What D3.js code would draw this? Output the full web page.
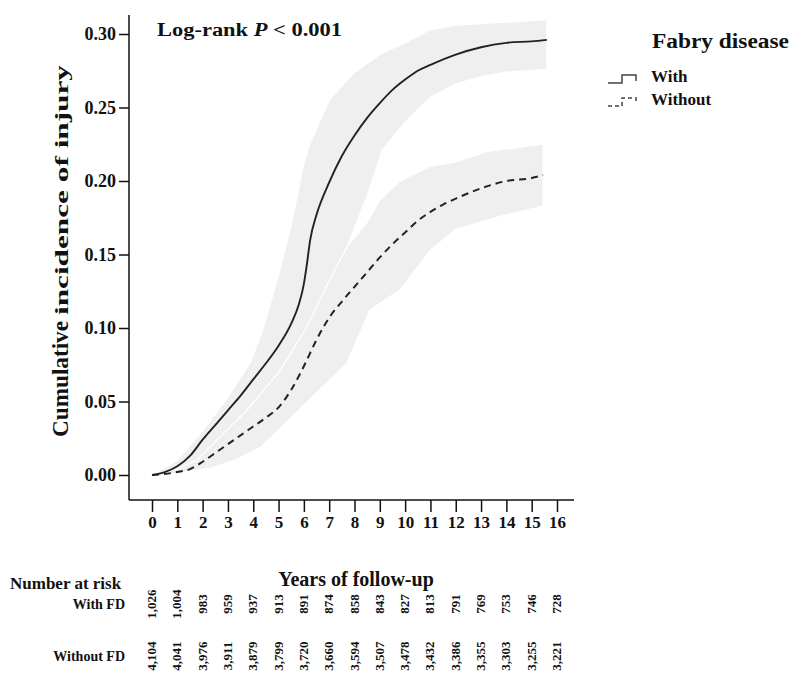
<!DOCTYPE html>
<html lang="en">
<head>
    <meta charset="UTF-8">
    <title>Cumulative incidence of injury</title>
    <style>
        body { margin: 0; padding: 0; background: #fff; }
        svg { display: block; }
        text { font-family: "Liberation Serif", "Times New Roman", serif; font-weight: bold; fill: #111; }
        .axis text { font-size: 17px; font-family: "Liberation Serif", serif; }
        .axis line, .axis path { stroke: #111; stroke-width: 1.5; }
    </style>
    <script src="https://d3js.org/d3.v7.min.js"></script>
</head>
<body>
<svg id="chart" width="791" height="673"></svg>
<script>
    // years of follow-up, cumulative incidence
    const withCurve = [[0,0],[0.5,0.002],[1,0.006],[1.5,0.013],[2,0.024],[2.5,0.034],[3,0.044],[3.5,0.054],[4,0.065],[4.5,0.076],[5,0.088],[5.5,0.103],[5.8,0.116],[6,0.13],[6.1,0.141],[6.25,0.16],[6.5,0.177],[7,0.199],[7.5,0.217],[8,0.231],[8.5,0.243],[9,0.253],[9.5,0.262],[10,0.269],[10.5,0.275],[11,0.279],[12,0.286],[13,0.291],[14,0.294],[15,0.295],[15.6,0.296]];
    const withoutCurve = [[0,0],[1,0.002],[1.5,0.004],[2,0.009],[2.5,0.015],[3,0.021],[3.5,0.027],[4,0.033],[4.5,0.039],[5,0.046],[5.5,0.058],[6,0.074],[6.5,0.092],[7,0.107],[7.5,0.118],[8,0.128],[8.5,0.138],[9,0.148],[9.5,0.157],[10,0.165],[10.5,0.173],[11,0.179],[11.5,0.184],[12,0.188],[13,0.195],[14,0.2],[15,0.202],[15.45,0.204]];

    // confidence bands (upper / lower edges)
    const withUpper = [[0,0],[1,0.01],[2,0.03],[3,0.053],[3.9,0.077],[4.4,0.1],[5,0.136],[5.5,0.17],[6,0.212],[6.2,0.224],[7,0.255],[8,0.274],[9,0.286],[10,0.294],[11,0.303],[12,0.306],[13,0.307],[14,0.308],[15,0.309],[15.6,0.31]];
    const withLower = [[0,0],[1,0.004],[1.77,0.01],[2.4,0.021],[3.75,0.044],[5.06,0.071],[6.1,0.1],[7.03,0.133],[7.7,0.155],[8.5,0.19],[9.1,0.221],[10,0.24],[11,0.257],[12,0.266],[13,0.271],[14,0.274],[15.6,0.276]];
    const withoutUpper = [[0,0],[1,0.004],[1.77,0.01],[2.4,0.021],[3.75,0.044],[5.06,0.071],[6.1,0.1],[7.03,0.133],[7.7,0.155],[8.5,0.172],[9,0.187],[9.8,0.2],[11,0.21],[12,0.213],[13.2,0.22],[15.45,0.225]];
    const withoutLower = [[0,0],[1,0.001],[2.4,0.005],[3.4,0.011],[4.3,0.019],[7.7,0.076],[8.6,0.112],[9.8,0.126],[11,0.153],[12,0.167],[13.75,0.176],[15.45,0.183]];

    const xTicks = d3.range(0, 17);
    const yTicks = [0, 0.05, 0.10, 0.15, 0.20, 0.25, 0.30];

    const riskLabels = ["With FD", "Without FD"];
    const atRiskWith = [1026,1004,983,959,937,913,891,874,858,843,827,813,791,769,753,746,728];
    const atRiskWithout = [4104,4041,3976,3911,3879,3799,3720,3660,3594,3507,3478,3432,3386,3355,3303,3255,3221];

    const legendTitle = "Fabry disease";
    const legendLabels = ["With", "Without"];

    const svg = d3.select("#chart");
    const frame = { left: 129, right: 574, top: 15, bottom: 500 };

    const x = d3.scaleLinear().domain([0, 16]).range([152, 557]);
    const y = d3.scaleLinear().domain([0, 0.30]).range([475, 34]);

    // bands
    const band = (up, lo) => {
        const pts = up.map(d => [x(d[0]), y(d[1])]).concat(lo.slice().reverse().map(d => [x(d[0]), y(d[1])]));
        return "M" + pts.join("L") + "Z";
    };
    svg.append("path").attr("d", band(withUpper, withLower))
        .attr("fill", "#efefef").attr("stroke", "#fff").attr("stroke-width", 1.2);
    svg.append("path").attr("d", band(withoutUpper, withoutLower))
        .attr("fill", "#efefef").attr("stroke", "#fff").attr("stroke-width", 1.2);

    const line = d3.line().x(d => x(d[0])).y(d => y(d[1])).curve(d3.curveMonotoneX);
    svg.append("path").attr("d", line(withCurve))
        .attr("fill", "none").attr("stroke", "#222").attr("stroke-width", 1.9);
    svg.append("path").attr("d", line(withoutCurve))
        .attr("fill", "none").attr("stroke", "#222").attr("stroke-width", 2)
        .attr("stroke-dasharray", "7,5");

    // axes
    svg.append("line").attr("x1", frame.left).attr("x2", frame.left)
        .attr("y1", frame.top).attr("y2", frame.bottom).attr("stroke", "#111").attr("stroke-width", 1.5);
    svg.append("line").attr("x1", frame.left).attr("x2", frame.right)
        .attr("y1", frame.bottom).attr("y2", frame.bottom).attr("stroke", "#111").attr("stroke-width", 1.5);

    const yAxis = svg.append("g").attr("class", "axis")
        .attr("transform", `translate(${frame.left},0)`)
        .call(d3.axisLeft(y).tickValues(yTicks).tickFormat(d3.format(".2f")).tickSize(10).tickPadding(3));
    yAxis.select(".domain").remove();
    yAxis.selectAll("text").style("font-size", "18px");

    const xAxis = svg.append("g").attr("class", "axis")
        .attr("transform", `translate(0,${frame.bottom})`)
        .call(d3.axisBottom(x).tickValues(xTicks).tickFormat(d3.format("d")).tickSize(12).tickPadding(4));
    xAxis.select(".domain").remove();

    // titles
    const t = svg.append("text").attr("x", 157).attr("y", 36).style("font-size", "18px")
        .attr("textLength", 185).attr("lengthAdjust", "spacingAndGlyphs");
    t.append("tspan").text("Log-rank ");
    t.append("tspan").style("font-style", "italic").text("P");
    t.append("tspan").text(" < 0.001");

    const yt = svg.append("text").attr("transform", "translate(68,437) rotate(-90)");
    yt.append("tspan").style("font-size", "24px").attr("textLength", 116).attr("lengthAdjust", "spacingAndGlyphs").text("Cumulative");
    yt.append("tspan").attr("dx", 6).style("font-size", "18px").attr("textLength", 250).attr("lengthAdjust", "spacingAndGlyphs").text("incidence of injury");

    svg.append("text").attr("x", 356).attr("y", 586).attr("text-anchor", "middle")
        .style("font-size", "20px").text("Years of follow-up");

    svg.append("text").attr("x", 10).attr("y", 589).style("font-size", "17px").text("Number at risk");

    // number at risk table
    const fmt = d3.format(",");
    [atRiskWith, atRiskWithout].forEach((row, i) => {
        const cy = i === 0 ? 604 : 656;
        svg.append("text").attr("x", 125).attr("y", cy + 5).attr("text-anchor", "end")
            .style("font-size", "14px").text(riskLabels[i]);
        svg.selectAll(null).data(row).enter().append("text")
            .attr("transform", (d, j) => `translate(${x(xTicks[j]) + 4},${cy}) rotate(-90)`)
            .attr("text-anchor", "middle")
            .style("font-size", "13px")
            .text(d => fmt(d));
    });

    // legend
    svg.append("text").attr("x", 652).attr("y", 48).style("font-size", "20px")
        .attr("textLength", 137).attr("lengthAdjust", "spacingAndGlyphs").text(legendTitle);
    legendLabels.forEach((lab, i) => {
        const by = 83 + i * 23;
        svg.append("path")
            .attr("d", `M608,${by}H622V${by - 8}H636V${by - 2}`)
            .attr("fill", "none").attr("stroke", "#444").attr("stroke-width", 1.5)
            .attr("stroke-dasharray", i === 0 ? null : "4,3");
        svg.append("text").attr("x", 651).attr("y", by - 1).style("font-size", "17px").text(lab);
    });
</script>
</body>
</html>
